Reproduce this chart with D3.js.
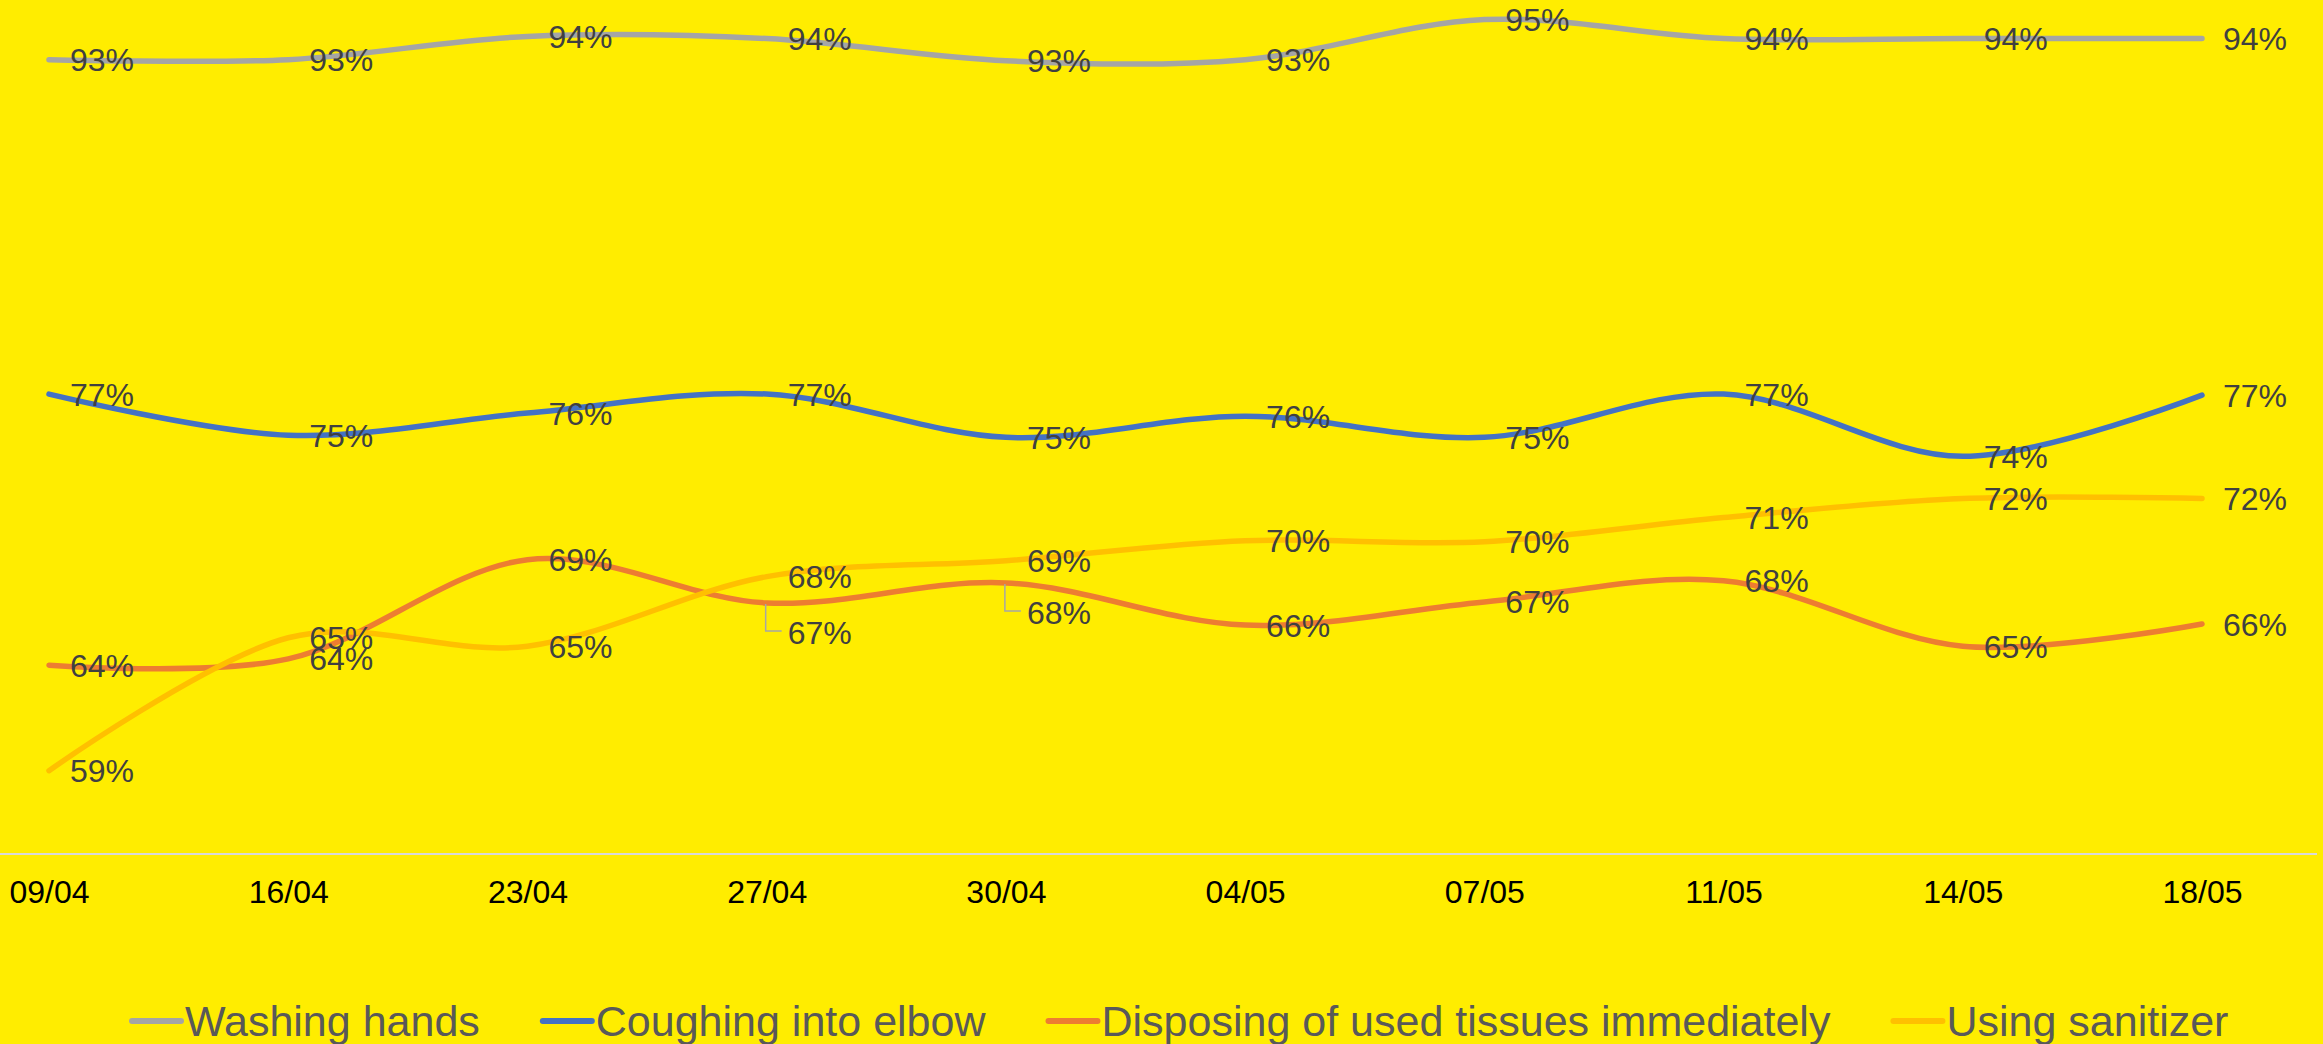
<!DOCTYPE html>
<html>
<head>
<meta charset="utf-8">
<script src="https://cdn.jsdelivr.net/npm/d3@7"></script>
<style>
  html, body { margin: 0; padding: 0; background: #FFED00; }
  svg { display: block; }
  text { font-family: "Liberation Sans", Arial, sans-serif; }
</style>
</head>
<body>
<script>
// ---- data ----
const categories = ["09/04", "16/04", "23/04", "27/04", "30/04", "04/05", "07/05", "11/05", "14/05", "18/05"];
const seriesNames = ["Washing hands", "Coughing into elbow", "Disposing of used tissues immediately", "Using sanitizer"];
const washingHands = [92.6, 92.6, 93.7, 93.6, 92.55, 92.6, 94.5, 93.6, 93.6, 93.6];
const coughingIntoElbow = [76.75, 74.8, 75.85, 76.75, 74.7, 75.7, 74.7, 76.75, 73.8, 76.7];
const disposingTissues = [63.9, 64.2, 68.9, 66.85, 67.8, 65.8, 66.9, 67.9, 64.8, 65.85];
const usingSanitizer = [58.9, 65.2, 64.8, 68.1, 68.85, 69.8, 69.75, 70.9, 71.8, 71.8];
const seriesColors = ["#A5A5A5", "#4472C4", "#ED7D31", "#FFC000"];

// ---- layout ----
const W = 2323, H = 1044;
const axisY = 854;
const series = [washingHands, coughingIntoElbow, disposingTissues, usingSanitizer]
  .map((vals, i) => ({ name: seriesNames[i], color: seriesColors[i], values: vals }));
// labels moved with a leader line: series index -> point index
const leaderLabels = { 2: [3, 4] };

const svg = d3.select("body").append("svg").attr("width", W).attr("height", H);
svg.append("rect").attr("width", W).attr("height", H).attr("fill", "#FFED00");

const x = d3.scalePoint().domain(categories).range([49, 2202]);
const y = d3.scaleLinear().domain([55, 95]).range([853, 9]);

// axis
const axis = svg.append("g").attr("transform", `translate(0,${axisY})`)
  .call(d3.axisBottom(x).tickSize(0).tickPadding(0));
axis.select(".domain").remove();
axis.selectAll("text")
  .attr("y", 49).attr("dy", null)
  .attr("font-size", 32).attr("fill", "#000")
  .attr("font-family", "Liberation Sans, Arial, sans-serif");
svg.append("line").attr("x1", 0).attr("x2", 2317).attr("y1", axisY).attr("y2", axisY)
  .attr("stroke", "#D9D9D9").attr("stroke-width", 2);

// lines
const line = d3.line()
  .x((d, i) => x(categories[i]))
  .y(d => y(d))
  .curve(d3.curveCardinal.tension(0));

svg.append("g").selectAll("path").data(series).join("path")
  .attr("d", d => line(d.values))
  .attr("fill", "none")
  .attr("stroke", d => d.color)
  .attr("stroke-width", 5.5)
  .attr("stroke-linecap", "round")
  .attr("stroke-linejoin", "round");

// data labels
const lab = svg.append("g");
series.forEach((s, si) => {
  s.values.forEach((v, i) => {
    const px = x(categories[i]), py = y(v);
    const moved = leaderLabels[si] && leaderLabels[si].includes(i);
    let ly = py;
    if (moved) {
      ly = py + 30;
      lab.append("path")
        .attr("d", `M${px - 1},${py + 1}V${py + 28}H${px + 15}`)
        .attr("fill", "none").attr("stroke", "#A6A6A6").attr("stroke-width", 1.5);
    }
    lab.append("text")
      .attr("x", px + 21)
      .attr("y", ly)
      .attr("dy", "0.36em")
      .attr("font-size", 32)
      .attr("fill", "#404040")
      .text(Math.round(v) + "%");
  });
});

// legend
const leg = svg.append("g");
let lx = 129;
const legY = 1021;
series.forEach(s => {
  leg.append("line").attr("x1", lx + 3).attr("x2", lx + 52).attr("y1", legY).attr("y2", legY)
    .attr("stroke", s.color).attr("stroke-width", 6).attr("stroke-linecap", "round");
  const t = leg.append("text").attr("x", lx + 56).attr("y", 1036)
    .attr("font-size", 43).attr("fill", "#595959").text(s.name);
  const w = t.node().getComputedTextLength();
  lx = lx + 56 + w + 60;
});
</script>
</body>
</html>
